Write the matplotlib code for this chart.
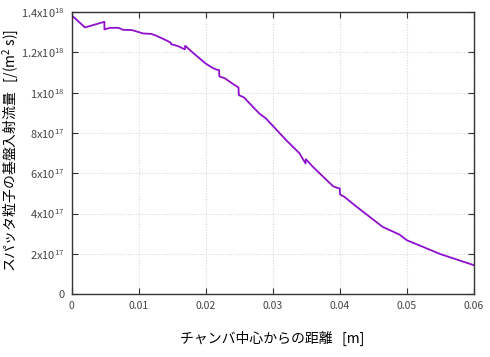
import matplotlib
matplotlib.use("Agg")
import matplotlib.pyplot as plt
from matplotlib.ticker import FixedLocator, FixedFormatter

plt.rcParams['font.family'] = ['Noto Sans CJK JP', 'DejaVu Sans']
plt.rcParams['mathtext.default'] = 'regular'

# distance from chamber centre [m]
x = [0.0, 0.002, 0.0049, 0.00491, 0.0057, 0.007, 0.0077, 0.009, 0.0107, 0.0119,
     0.0127, 0.0142, 0.0148, 0.01485, 0.0159, 0.0169, 0.01695, 0.0184, 0.020, 0.021,
     0.0216, 0.022, 0.02205, 0.0229, 0.0241, 0.0249, 0.02495, 0.0257, 0.0261, 0.028,
     0.029, 0.032, 0.034, 0.0349, 0.03495, 0.036, 0.039, 0.0396, 0.040, 0.04005,
     0.0407, 0.0424, 0.0464, 0.0489, 0.050, 0.055, 0.060]
# incident flux [/(m^2 s)] in units of 1e18
flux = [1.385, 1.324, 1.352, 1.314, 1.322, 1.322, 1.312, 1.311, 1.294, 1.292,
        1.282, 1.259, 1.248, 1.241, 1.231, 1.215, 1.233, 1.190, 1.145, 1.124,
        1.115, 1.112, 1.081, 1.071, 1.043, 1.026, 0.988, 0.977, 0.963, 0.897,
        0.872, 0.765, 0.699, 0.649, 0.670, 0.632, 0.536, 0.528, 0.525, 0.495,
        0.483, 0.437, 0.334, 0.296, 0.268, 0.199, 0.144]

xticks = [0, 0.01, 0.02, 0.03, 0.04, 0.05, 0.06]
xtick_labels = ['0', '0.01', '0.02', '0.03', '0.04', '0.05', '0.06']
yticks = [0, 0.2, 0.4, 0.6, 0.8, 1.0, 1.2, 1.4]
ytick_labels = ['0', '2x10$^{17}$', '4x10$^{17}$', '6x10$^{17}$', '8x10$^{17}$',
                '1x10$^{18}$', '1.2x10$^{18}$', '1.4x10$^{18}$']

fig = plt.figure(figsize=(4.9, 3.57), dpi=100)
ax = fig.add_axes([0.146, 0.176, 0.821, 0.790])

ax.plot(x, flux, color='#8E10CC', lw=1.3)

ax.set_xlim(0, 0.06)
ax.set_ylim(0, 1.4)
ax.xaxis.set_major_locator(FixedLocator(xticks))
ax.xaxis.set_major_formatter(FixedFormatter(xtick_labels))
ax.yaxis.set_major_locator(FixedLocator(yticks))
ax.yaxis.set_major_formatter(FixedFormatter(ytick_labels))

ax.grid(True, color='#d8d8d8', linestyle=(0, (1, 1.5)), linewidth=0.8)
for s in ax.spines.values():
    s.set_color('#333333')
    s.set_linewidth(1.0)
ax.tick_params(direction='in', length=4, width=0.8, color='#333333',
               top=True, right=True, labelcolor='#444444', pad=5)
ax.tick_params(axis='y', labelsize=8)
ax.tick_params(axis='x', labelsize=7.5)

ax.set_xlabel('チャンバ中心からの距離   [m]', fontsize=10, labelpad=14)
ax.set_ylabel('スパッタ粒子の基盤入射流量   [/(m$^2$ s)]', fontsize=10)
ax.yaxis.set_label_coords(-0.126, 0.51)

fig.savefig('out.png', dpi=100)
